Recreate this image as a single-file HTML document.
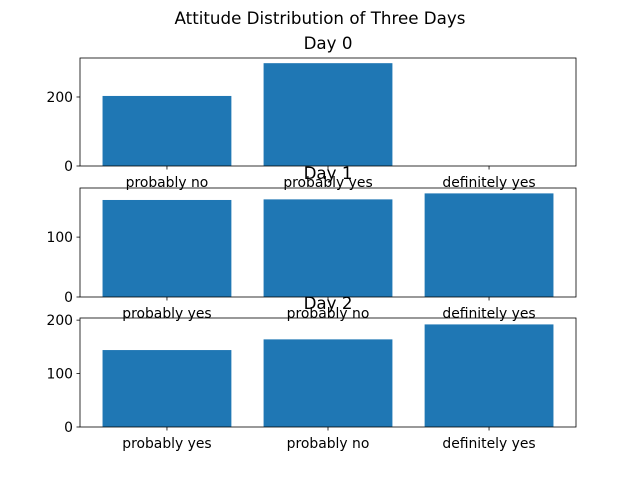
<!DOCTYPE html>
<html><head><meta charset="utf-8"><style>body{margin:0;background:#fff}svg{display:block}</style></head>
<body>
<svg id="c" width="640" height="480" xmlns="http://www.w3.org/2000/svg" font-family="DejaVu Sans, Liberation Sans, sans-serif"></svg>
<script>
const titles = ["Day 0","Day 1","Day 2"];
const cats0 = ["probably no","probably yes","definitely yes"];
const cats1 = ["probably yes","probably no","definitely yes"];
const cats2 = ["probably yes","probably no","definitely yes"];
const vals0 = [203, 298, 0];
const vals1 = [162, 163, 173];
const vals2 = [144, 164, 192];
const ticks0 = [0, 200];
const ticks1 = [0, 100];
const ticks2 = [0, 100, 200];
const ymax0 = 313, ymax1 = 182, ymax2 = 204;

const NS = "http://www.w3.org/2000/svg";
const svg = document.getElementById("c");
function mk(tag, attrs, parent){const e=document.createElementNS(NS,tag);for(const k in attrs)e.setAttribute(k,attrs[k]);(parent||svg).appendChild(e);return e;}

const sup = mk("text",{x:320,y:24,"text-anchor":"middle","font-size":16.7,fill:"#000"});
sup.textContent="Attitude Distribution of Three Days";



const L=80,R=576;
const panels=[
 {top:58,bot:166,cats:cats0,vals:vals0,ticks:ticks0,ymax:ymax0,title:titles[0]},
 {top:188,bot:297,cats:cats1,vals:vals1,ticks:ticks1,ymax:ymax1,title:titles[1]},
 {top:318,bot:427,cats:cats2,vals:vals2,ticks:ticks2,ymax:ymax2,title:titles[2]}
];
panels.forEach((p,i)=>{
  const g=mk("g",{});
  
  
  const n=p.cats.length;
  const x0=-0.4-0.05*(n-1+0.8), x1=n-1+0.4+0.05*(n-1+0.8);
  const sx=v=>L+(v-x0)/(x1-x0)*(R-L);
  const sy=v=>p.bot-v/p.ymax*(p.bot-p.top);
  p.vals.forEach((v,j)=>{
    const r=mk("rect",{x:sx(j-0.4),y:sy(v),width:sx(j+0.4)-sx(j-0.4),height:p.bot-sy(v),fill:"#1f77b4"},g);
    
    
    mk("line",{x1:sx(j),x2:sx(j),y1:p.bot,y2:p.bot+3.5,stroke:"#000","stroke-width":0.8},g);
    const t=mk("text",{x:sx(j),y:p.bot+21,"text-anchor":"middle","font-size":13.9,fill:"#000"},g);
    t.textContent=p.cats[j];
    
    
  });
  p.ticks.forEach(v=>{
    mk("line",{x1:L-3.5,x2:L,y1:sy(v),y2:sy(v),stroke:"#000","stroke-width":0.8},g);
    const t=mk("text",{x:L-7,y:sy(v)+5,"text-anchor":"end","font-size":13.9,fill:"#000"},g);
    t.textContent=v;
    
    
  });
  const fr=mk("rect",{x:L,y:p.top,width:R-L,height:p.bot-p.top,fill:"none",stroke:"#000","stroke-width":0.8},g);
  
  
  const tt=mk("text",{x:(L+R)/2,y:p.top-9,"text-anchor":"middle","font-size":16.7,fill:"#000"},g);
  tt.textContent=p.title;
  
  
});
</script>
</body></html>
